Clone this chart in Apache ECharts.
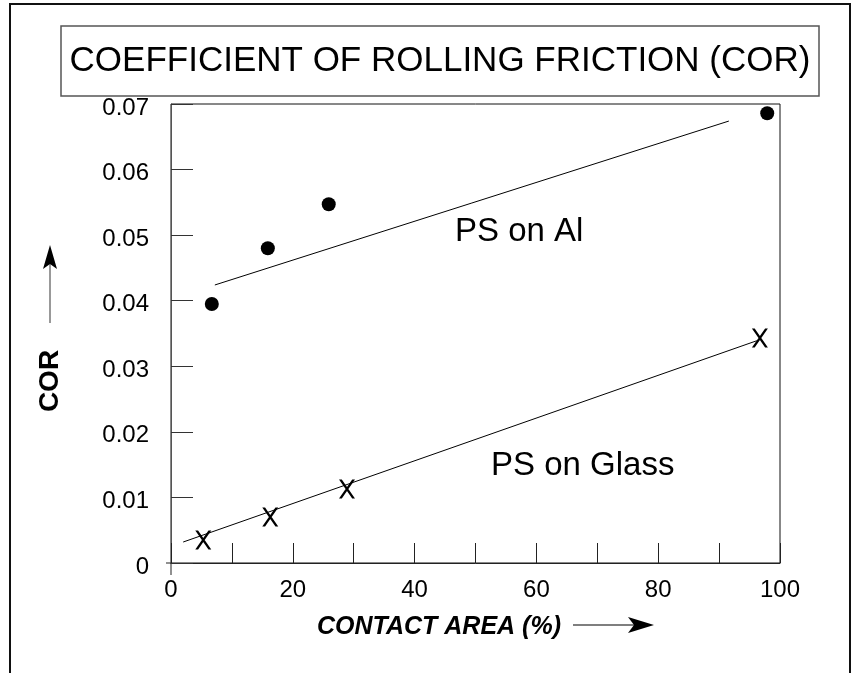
<!DOCTYPE html>
<html>
<head>
<meta charset="utf-8">
<script src="https://cdn.jsdelivr.net/npm/echarts@6/dist/echarts.min.js"></script>
<style>html,body{margin:0;padding:0;background:#fff;}#c{width:856px;height:673px;}</style>
</head>
<body>
<div id="c"></div>
<script>
// Data
var titleText = 'COEFFICIENT OF ROLLING FRICTION (COR)';
var xTicks = [0, 20, 40, 60, 80, 100];
var yTicks = [0, 0.01, 0.02, 0.03, 0.04, 0.05, 0.06, 0.07];
var psOnAl = [[6.7, 0.0395], [15.9, 0.0480], [25.9, 0.0547], [97.9, 0.0686]];
var psOnGlass = [[5.3, 0.0035], [16.3, 0.0070], [28.9, 0.0113], [96.7, 0.0343]];
var fitAl = [[7.2, 0.0424], [91.6, 0.0674]];
var fitGlass = [[2.0, 0.0032], [96.2, 0.0339]];

var FONT = '"Liberation Sans", Arial, Helvetica, sans-serif';
var xMark = 'path://M0,0L2.8,0L16,19L13.2,19ZM13.2,0L16,0L2.8,19L0,19Z';

var chart = echarts.init(document.getElementById('c'), null, {renderer: 'canvas'});
chart.setOption({
  animation: false,
  backgroundColor: '#fff',
  grid: {left: 171, top: 104, right: 76, bottom: 110, show: true, borderColor: '#111', borderWidth: 1, backgroundColor: 'transparent'},
  xAxis: {
    type: 'value', min: 0, max: 100, interval: 10,
    axisLine: {show: true, lineStyle: {color: '#222', width: 1}},
    axisTick: {show: true, inside: true, length: 20, lineStyle: {color: '#222', width: 1}},
    splitLine: {show: false},
    axisLabel: {
      show: true, margin: 15, fontSize: 24, color: '#000', fontFamily: FONT,
      formatter: function (v) { return xTicks.indexOf(v) >= 0 ? String(v) : ''; }
    }
  },
  yAxis: {
    type: 'value', min: 0, max: 0.07, interval: 0.01,
    axisLine: {show: true, lineStyle: {color: '#555', width: 1}},
    axisTick: {show: true, inside: true, length: 22, lineStyle: {color: '#333', width: 1}},
    splitLine: {show: false},
    axisLabel: {
      show: true, margin: 22, fontSize: 24, color: '#000', fontFamily: FONT,
      rich: {t: {fontSize: 24, fontFamily: FONT, color: '#000', padding: [8, 0, 0, 0]}},
      formatter: function (v) {
        for (var i = 0; i < yTicks.length; i++) { if (Math.abs(yTicks[i] - v) < 1e-9) return '{t|' + (yTicks[i] === 0 ? '0' : yTicks[i].toFixed(2)) + '}'; }
        return '';
      }
    }
  },
  series: [
    {type: 'line', data: fitAl, symbol: 'none', lineStyle: {color: '#000', width: 1}, silent: true},
    {type: 'line', data: fitGlass, symbol: 'none', lineStyle: {color: '#000', width: 1}, silent: true},
    {type: 'scatter', name: 'PS on Al', data: psOnAl, symbol: 'circle', symbolSize: 14, itemStyle: {color: '#000', opacity: 1}},
    {type: 'scatter', name: 'PS on Glass', data: psOnGlass, symbol: xMark, symbolSize: [16, 19], itemStyle: {color: '#000', opacity: 1}}
  ],
  graphic: [
    {type: 'rect', shape: {x: 10, y: 4, width: 840, height: 700}, style: {fill: 'none', stroke: '#111', lineWidth: 2}, silent: true},
    {type: 'rect', shape: {x: 61, y: 26, width: 758, height: 70}, style: {fill: '#fff', stroke: '#555', lineWidth: 1.5}, silent: true},
    {type: 'text', x: 440, y: 61, style: {text: titleText, font: '35px ' + FONT, fill: '#000', textAlign: 'center', textVerticalAlign: 'middle'}},
    {type: 'text', x: 455, y: 232, style: {text: 'PS on Al', font: '33px ' + FONT, fill: '#000', textAlign: 'left', textVerticalAlign: 'middle'}},
    {type: 'text', x: 491, y: 466, style: {text: 'PS on Glass', font: '33px ' + FONT, fill: '#000', textAlign: 'left', textVerticalAlign: 'middle'}},
    {type: 'text', x: 50, y: 381, rotation: Math.PI / 2, style: {text: 'COR', font: 'bold 28px ' + FONT, fill: '#000', textAlign: 'center', textVerticalAlign: 'middle'}},
    {type: 'line', shape: {x1: 50, y1: 323, x2: 50, y2: 262}, style: {stroke: '#555', lineWidth: 1.2}},
    {type: 'polygon', shape: {points: [[50, 245], [57, 269], [50, 264], [43, 269]]}, style: {fill: '#000'}},
    {type: 'text', x: 317, y: 627, style: {text: 'CONTACT AREA (%)', font: 'italic bold 25px ' + FONT, fill: '#000', textAlign: 'left', textVerticalAlign: 'middle'}},
    {type: 'line', shape: {x1: 573, y1: 625, x2: 636, y2: 625}, style: {stroke: '#000', lineWidth: 1.2}},
    {type: 'polygon', shape: {points: [[654, 625], [628, 617], [634, 625], [628, 633]]}, style: {fill: '#000'}},
    {type: 'line', shape: {x1: 171, y1: 563, x2: 171, y2: 575}, style: {stroke: '#222', lineWidth: 1}},
    {type: 'line', shape: {x1: 166, y1: 563, x2: 171, y2: 563}, style: {stroke: '#222', lineWidth: 1}}
  ]
});
</script>
</body>
</html>
